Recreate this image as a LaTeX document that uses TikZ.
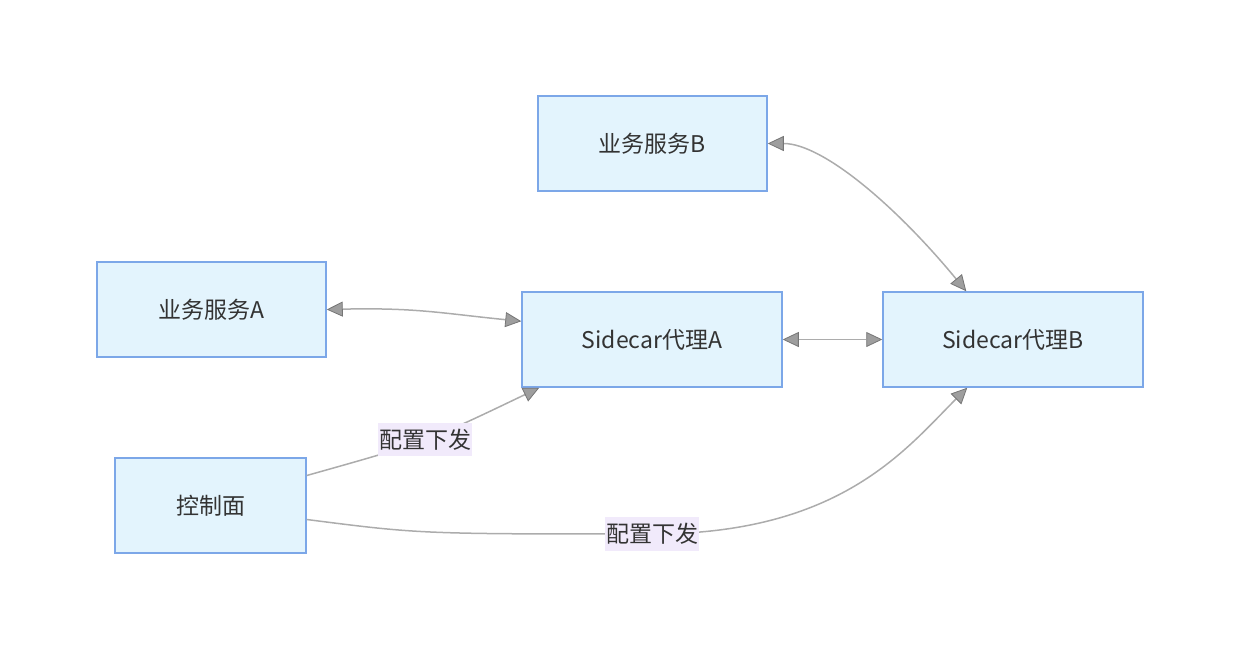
\documentclass[tikz,border=0pt]{standalone}
\usepackage{fontspec}
\setmainfont{Noto Sans CJK SC}
\usetikzlibrary{arrows.meta}
\definecolor{boxfill}{RGB}{227,244,253}
\definecolor{boxline}{RGB}{124,167,232}
\definecolor{edgecol}{RGB}{172,172,172}
\definecolor{tipcol}{RGB}{158,158,158}
\definecolor{lblfill}{RGB}{241,234,251}
\definecolor{txt}{RGB}{51,51,51}
\tikzset{
  svc/.style={draw=boxline, fill=boxfill, line width=1.5pt, inner sep=0pt,
    minimum height=95pt, text=txt, font=\fontsize{23}{26}\selectfont},
  tip/.style={},
  conn/.style={draw=edgecol, line width=1.5pt,
    arrows={Triangle[length=16pt,width=15pt,fill=tipcol,color=tipcol!75!black,line width=0.8pt]-Triangle[length=16pt,width=15pt,fill=tipcol,color=tipcol!75!black,line width=0.8pt]}},
  oneway/.style={draw=edgecol, line width=1.5pt,
    arrows={-Triangle[length=16pt,width=15pt,fill=tipcol,color=tipcol!75!black,line width=0.8pt]}},
  lbl/.style={fill=lblfill, text=txt, inner xsep=1pt, inner ysep=6pt, font=\fontsize{23}{26}\selectfont}
}
\begin{document}
\begin{tikzpicture}[x=1pt,y=-1pt]
\useasboundingbox (0,0) rectangle (1239,650);
\node[svc, minimum width=229pt] (sb) at (652.5,143.5) {业务服务B};
\node[svc, minimum width=229pt] (sa) at (211.5,309.5) {业务服务A};
\node[svc, minimum width=260pt] (pa) at (652,339.5) {Sidecar代理A};
\node[svc, minimum width=260pt] (pb) at (1013,339.5) {Sidecar代理B};
\node[svc, minimum width=191pt] (cp) at (210.5,505.5) {控制面};

\draw[conn] (sa.east) .. controls +(90,-2) and +(-80,-8) .. ([yshift=-30pt]pa.north west);
\draw[conn] (sb.east) .. controls +(55,0) and +(-70,-85) .. ([xshift=84pt]pb.north west);
\draw[conn] (pa.east) -- (pb.west);
\draw[oneway] ([yshift=30pt]cp.east) .. controls (426,442) .. node[lbl, pos=0.5] (l1) {配置下发} ([xshift=18pt]pa.south west);
\draw[oneway] ([yshift=-14pt]cp.east) .. controls (420,534) .. (652,534) node[lbl] (l2) {配置下发}
  .. controls (840,534) and (905,450) .. ([xshift=85pt]pb.south west);
\end{tikzpicture}
\end{document}
